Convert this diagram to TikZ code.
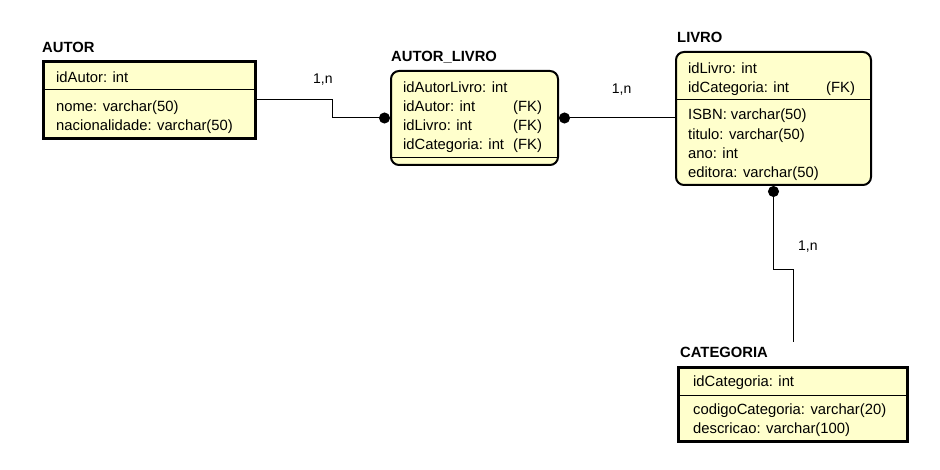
\documentclass[tikz,border=0pt]{standalone}
\usepackage{fontspec}
\setmainfont{Liberation Sans}
\usetikzlibrary{arrows.meta}
\definecolor{tblfill}{RGB}{255,255,204}
\begin{document}
\begin{tikzpicture}[x=1pt,y=-1pt,
  sqbox/.style={draw, line width=3pt, fill=tblfill, anchor=north west, inner sep=0pt},
  rdbox/.style={draw, line width=2pt, fill=tblfill, rounded corners=8pt, anchor=north west, inner sep=0pt},
  row/.style={anchor=base west, inner sep=0pt, font=\fontsize{14.8}{17}\selectfont},
  ttl/.style={anchor=base west, inner sep=0pt, font=\fontsize{14.8}{17}\selectfont\bfseries},
  lbl/.style={anchor=base west, inner sep=0pt, font=\fontsize{14}{17}\selectfont},
  sepline/.style={line width=0.8pt},
  conn/.style={line width=1pt},
  dottip/.tip={Circle[length=11pt,width=11pt]}
]
\useasboundingbox (0,0) rectangle (940,470);

% AUTOR
\node[sqbox, minimum width=212pt, minimum height=77pt] (autor) at (42,60) {};
\node[ttl] (autorT) at (42,52.7) {AUTOR};
\draw[sepline] (autor.west |- 0,89) -- (autor.east |- 0,89);
\node[row] (autorR1) at (56,82.5) {idAutor: int};
\node[row] (autorR2) at (56,112) {nome: varchar(50)};
\node[row] (autorR3) at (56,131) {nacionalidade: varchar(50)};

% AUTOR_LIVRO
\node[rdbox, minimum width=167pt, minimum height=94pt] (al) at (390,70) {};
\node[ttl] (alT) at (391,61.7) {AUTOR\_LIVRO};
\draw[sepline] (al.west |- 0,157) -- (al.east |- 0,157);
\node[row] (alR1) at (403,92.3) {idAutorLivro: int};
\node[row] (alR2) at (403,111.7) {idAutor: int};
\node[row] (alR3) at (403,130.7) {idLivro: int};
\node[row] (alR4) at (403,150) {idCategoria: int};
\node[row] (alF2) at (513,111.7) {(FK)};
\node[row] (alF3) at (513,130.7) {(FK)};
\node[row] (alF4) at (513,150) {(FK)};

% LIVRO
\node[rdbox, minimum width=195pt, minimum height=133pt] (livro) at (675,51) {};
\node[ttl] (livroT) at (677,42.3) {LIVRO};
\draw[sepline] (livro.west |- 0,99) -- (livro.east |- 0,99);
\node[row] (livroR1) at (688,73.3) {idLivro: int};
\node[row] (livroR2) at (688,92.7) {idCategoria: int};
\node[row] (livroF2) at (826,92.7) {(FK)};
\node[row] (livroR3) at (688,120) {ISBN: varchar(50)};
\node[row] (livroR4) at (688,139.3) {titulo: varchar(50)};
\node[row] (livroR5) at (688,158.3) {ano: int};
\node[row] (livroR6) at (688,177.7) {editora: varchar(50)};

% CATEGORIA
\node[sqbox, minimum width=229pt, minimum height=74pt] (cat) at (677,366) {};
\node[ttl] (catT) at (680,357.3) {CATEGORIA};
\draw[sepline] (cat.west |- 0,395) -- (cat.east |- 0,395);
\node[row] (catR1) at (693,386) {idCategoria: int};
\node[row] (catR2) at (693,414.3) {codigoCategoria: varchar(20)};
\node[row] (catR3) at (693,433.3) {descricao: varchar(100)};

% connectors
\draw[conn, -dottip] (autor.east) -- ++(75,0) |- (al.west);
\node[lbl] (l1) at (313,84) {1,n};

\draw[conn, dottip-] (al.east) -- (al.east -| livro.west);
\node[lbl] (l2) at (611.7,94) {1,n};

\coordinate (catend) at (793,342);
\draw[conn, dottip-] (livro.south) |- (0,270 -| catend) -- (catend);
\node[lbl] (l3) at (798,250.7) {1,n};
\end{tikzpicture}
\end{document}
